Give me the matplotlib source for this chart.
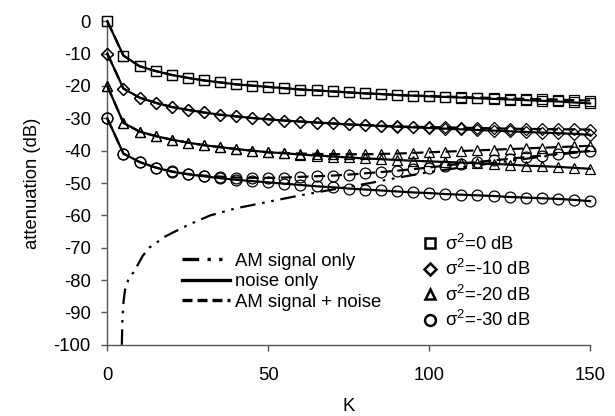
import matplotlib
matplotlib.use('Agg')
import matplotlib.pyplot as plt
from matplotlib.lines import Line2D

plt.rcParams['font.family'] = ['Liberation Sans', 'DejaVu Sans']
plt.rcParams['mathtext.fontset'] = 'custom'
plt.rcParams['mathtext.rm'] = 'Liberation Sans'
plt.rcParams['axes.unicode_minus'] = False

# Data
K = [0, 5, 10, 15, 20, 25, 30, 35, 40, 45, 50, 55, 60, 65, 70, 75,
     80, 85, 90, 95, 100, 105, 110, 115, 120, 125, 130, 135, 140, 145, 150]

# noise only
noise_0 = [0, -10.6, -13.9, -15.4, -16.6, -17.5, -18.3, -18.9, -19.5, -19.9, -20.3,
           -20.7, -21.1, -21.4, -21.7, -22.0, -22.3, -22.5, -22.8, -23.0, -23.2,
           -23.4, -23.6, -23.8, -24.0, -24.2, -24.4, -24.6, -24.8, -25.1, -25.4]
noise_10 = [-10, -20.8, -23.6, -25.2, -26.5, -27.4, -28.2, -28.9, -29.4, -29.9, -30.3,
            -30.7, -31.0, -31.3, -31.6, -31.9, -32.1, -32.4, -32.6, -32.8, -33.0,
            -33.2, -33.4, -33.6, -33.8, -34.0, -34.2, -34.4, -34.6, -34.8, -35.1]
noise_20 = [-20, -31.4, -34.1, -35.5, -36.6, -37.5, -38.3, -38.9, -39.5, -40.0, -40.5,
            -40.8, -41.2, -41.5, -41.8, -42.1, -42.4, -42.6, -42.9, -43.1, -43.3,
            -43.5, -43.7, -43.9, -44.1, -44.3, -44.6, -44.8, -45.0, -45.3, -45.6]
noise_30 = [-30, -40.9, -43.5, -45.2, -46.5, -47.3, -47.9, -48.5, -49.0, -49.4, -49.8,
            -50.2, -50.6, -51.0, -51.3, -51.7, -52.0, -52.3, -52.6, -52.9, -53.1,
            -53.4, -53.6, -53.8, -54.0, -54.3, -54.5, -54.7, -54.9, -55.2, -55.6]

# AM signal + noise
sn_0 = [0, -10.6, -13.9, -15.4, -16.6, -17.5, -18.3, -18.9, -19.5, -19.9, -20.3,
        -20.7, -21.1, -21.4, -21.7, -22.0, -22.3, -22.5, -22.8, -23.0, -23.1,
        -23.3, -23.4, -23.6, -23.7, -23.9, -24.0, -24.1, -24.2, -24.4, -24.5]
sn_10 = [-10, -20.8, -23.6, -25.2, -26.5, -27.4, -28.2, -28.9, -29.4, -29.9, -30.3,
         -30.7, -31.0, -31.3, -31.6, -31.9, -32.1, -32.3, -32.5, -32.6, -32.7,
         -32.8, -32.9, -33.0, -33.1, -33.2, -33.3, -33.3, -33.4, -33.4, -33.5]
sn_20 = [-20, -31.4, -34.1, -35.5, -36.6, -37.5, -38.3, -38.9, -39.5, -40.0, -40.5,
         -40.7, -40.9, -41.0, -41.1, -41.1, -41.1, -41.0, -40.9, -40.7, -40.5,
         -40.3, -40.1, -39.9, -39.7, -39.5, -39.3, -39.1, -38.9, -38.7, -38.5]
sn_30 = [-30, -40.9, -43.5, -45.2, -46.4, -47.2, -47.7, -48.0, -48.3, -48.4, -48.4,
         -48.3, -48.1, -47.9, -47.7, -47.4, -47.0, -46.6, -46.2, -45.7, -45.2,
         -44.6, -44.0, -43.5, -43.0, -42.5, -42.0, -41.5, -41.0, -40.5, -40.1]

# AM signal only
am_K = [4.5, 4.7, 5, 5.5, 6.5, 8.5, 11, 13, 18, 25, 32, 40, 50, 60, 70,
        80, 90, 100, 110, 120, 130, 140, 150]
am_val = [-100, -92, -87, -83, -80, -77, -72.5, -70, -66.5, -63, -60, -57.8, -55.8,
          -53.8, -52, -50.3, -48.4, -46.6, -45.2, -43.8, -42.5, -41.2, -40.1]

labels = [r'$\mathregular{\sigma^2}$=0 dB', r'$\mathregular{\sigma^2}$=-10 dB',
          r'$\mathregular{\sigma^2}$=-20 dB', r'$\mathregular{\sigma^2}$=-30 dB']
markers = ['s', 'D', '^', 'o']
msizes = [7.5, 6.2, 7.5, 7.8]

fs = 13.3

fig = plt.figure(figsize=(6.15, 4.16), dpi=100)
ax = fig.add_axes([0.1745, 0.171, 0.785, 0.778])

lw = 1.6
noise_sets = [noise_0, noise_10, noise_20, noise_30]
sn_sets = [sn_0, sn_10, sn_20, sn_30]
for noise, sn, m, ms in zip(noise_sets, sn_sets, markers, msizes):
    ax.plot(K, noise, color='black', lw=lw, ls='-', marker=m, ms=ms,
            mfc='none', mec='black', mew=0.9, clip_on=False, zorder=3)
    ax.plot(K, sn, color='black', lw=lw, ls=(0, (5, 2.5)), marker=m, ms=ms,
            mfc='none', mec='black', mew=0.9, clip_on=False, zorder=3)

dashdotdot = (0, (7, 3, 1.2, 3, 1.2, 3))
ax.plot(am_K, am_val, color='black', lw=lw, ls=dashdotdot, clip_on=False, zorder=2)

ax.set_xlim(0, 150)
ax.set_ylim(-100, 0)
ax.set_xticks([0, 50, 100, 150])
ax.set_yticks(list(range(-100, 1, 10)))
ax.spines['top'].set_visible(False)
ax.spines['right'].set_visible(False)
for s in ['left', 'bottom']:
    ax.spines[s].set_color('#555555')
    ax.spines[s].set_linewidth(1.0)
ax.tick_params(direction='out', length=4, width=1, color='#555555', labelsize=fs)
ax.tick_params(axis='x', pad=12)
ax.tick_params(axis='y', pad=8)
ax.set_xlabel('K', fontsize=fs, labelpad=10)
ax.set_ylabel('attenuation (dB)', fontsize=fs, labelpad=9)

# line style legend
line_handles = [
    Line2D([], [], color='black', lw=2.4, ls=(0, (5, 2.5, 1, 2.5, 1, 2.5))),
    Line2D([], [], color='black', lw=2.4, ls='-'),
    Line2D([], [], color='black', lw=2.4, ls=(0, (3, 1.5))),
]
leg1 = ax.legend(line_handles, ['AM signal only', 'noise only', 'AM signal + noise'],
                 loc='center left', bbox_to_anchor=(0.139, 0.195), frameon=False,
                 fontsize=fs, handlelength=2.6, handletextpad=0.27,
                 labelspacing=0.2, borderaxespad=0)
ax.add_artist(leg1)

# marker legend
mark_handles = [Line2D([], [], ls='none', marker=m, ms=ms, mfc='none',
                       mec='black', mew=1.8) for m, ms in zip(markers, msizes)]
ax.legend(mark_handles, labels, loc='center left', bbox_to_anchor=(0.634, 0.195),
          frameon=False, fontsize=fs, handlelength=1.0, handletextpad=0.3,
          labelspacing=0.29, borderaxespad=0)

fig.savefig('out.png', dpi=100)
